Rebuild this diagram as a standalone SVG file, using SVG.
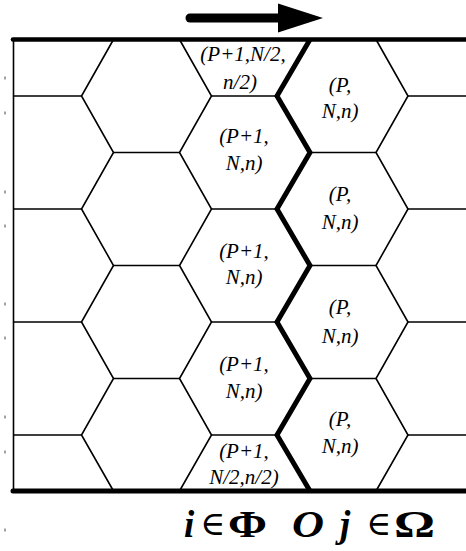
<svg xmlns="http://www.w3.org/2000/svg" width="466" height="551" viewBox="0 0 466 551">
<style>
.thin{fill:none;stroke:#000;stroke-width:1.6;stroke-linejoin:miter}
.thick{fill:none;stroke:#000;stroke-width:5;stroke-linejoin:miter}
.frame{fill:none;stroke:#000;stroke-width:4.6;stroke-linecap:round}
.tick{stroke:#666;stroke-width:1.2}
.lbl{font-style:italic;font-size:21px;fill:#000;text-anchor:middle}
.m{fill:#000}
</style>
<rect width="466" height="551" fill="#fff"/>
<g id="ticks">
<path class="tick" d="M5,76.5v3M5,111.5v3M5,190.5v3M5,224.5v3M5,302.5v3M5,336.5v3M5,415.5v3M5,450.5v3M5,528.5v3"/>
</g>
<g id="arrow">
<path d="M190,18H282" stroke="#000" stroke-width="9" stroke-linecap="round" fill="none"/>
<polygon points="278,3.5 323,18 278,32.5" fill="#000"/>
</g>
<g id="connectors">
<path class="thin" d="M13.5,39.5V491"/>
<path class="thin" d="M113.5,39.5L81.5,96L113.5,152.5L81.5,209L113.5,265.5L81.5,322L113.5,378.5L81.5,435L113.5,491"/>
<path class="thin" d="M179.5,39.5L211.5,96L179.5,152.5L211.5,209L179.5,265.5L211.5,322L179.5,378.5L211.5,435L179.5,491"/>
<path class="thin" d="M376,39.5L408,96L376,152.5L408,209L376,265.5L408,322L376,378.5L408,435L376,491"/>
<path class="thin" d="M13.5,96H81.5M211.5,96H277M408,96H466M13.5,209H81.5M211.5,209H277M408,209H466M13.5,322H81.5M211.5,322H277M408,322H466M13.5,435H81.5M211.5,435H277M408,435H466"/>
<path class="thin" d="M113.5,152.5H179.5M310,152.5H376M113.5,265.5H179.5M310,265.5H376M113.5,378.5H179.5M310,378.5H376"/>
<path class="thick" d="M310,39.5L277,96L310,152.5L277,209L310,265.5L277,322L310,378.5L277,435L310,491"/>
<path class="frame" d="M13,39.5H470"/>
<path class="frame" d="M13,491H470" style="stroke-width:5"/>
</g>
<g font-family="Liberation Serif, Times New Roman, DejaVu Serif, serif">
<g id="cell-B0"><text class="lbl" x="243" y="61">(P+1,N/2,</text><text class="lbl" x="240" y="89">n/2)</text></g>
<g id="cell-C1"><text class="lbl" x="340" y="92">(P,</text><text class="lbl" x="340" y="118">N,n)</text></g>
<g id="cell-B2"><text class="lbl" x="244" y="143">(P+1,</text><text class="lbl" x="244" y="170">N,n)</text></g>
<g id="cell-C3"><text class="lbl" x="340" y="201">(P,</text><text class="lbl" x="340" y="229">N,n)</text></g>
<g id="cell-B4"><text class="lbl" x="244" y="258">(P+1,</text><text class="lbl" x="244" y="284">N,n)</text></g>
<g id="cell-C5"><text class="lbl" x="340" y="314">(P,</text><text class="lbl" x="340" y="343">N,n)</text></g>
<g id="cell-B6"><text class="lbl" x="244" y="371">(P+1,</text><text class="lbl" x="244" y="398">N,n)</text></g>
<g id="cell-C7"><text class="lbl" x="340" y="426">(P,</text><text class="lbl" x="340" y="453">N,n)</text></g>
<g id="cell-B8"><text class="lbl" x="244" y="458">(P+1,</text><text class="lbl" x="244" y="484">N/2,n/2)</text></g>
<g id="legend">
<text class="m" x="184" y="537" style="font-size:37px;font-style:italic;font-weight:bold">i</text>
<text class="m" x="200" y="535" style="font-size:34px">∈</text>
<text class="m" x="228" y="537" style="font-size:37px;font-weight:bold" textLength="39" lengthAdjust="spacingAndGlyphs">Φ</text>
<text class="m" x="292" y="537" style="font-size:38px;font-style:italic;font-weight:bold" textLength="32" lengthAdjust="spacingAndGlyphs">O</text>
<text class="m" x="340" y="537" style="font-size:37px;font-style:italic;font-weight:bold">j</text>
<text class="m" x="366" y="535" style="font-size:34px">∈</text>
<text class="m" x="394" y="537" style="font-size:37px;font-weight:bold" textLength="41" lengthAdjust="spacingAndGlyphs">Ω</text>
</g>
</g>
</svg>
